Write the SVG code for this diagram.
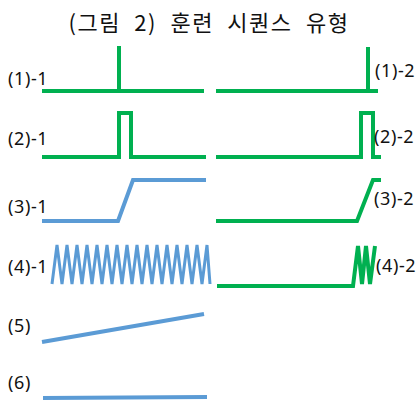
<svg xmlns="http://www.w3.org/2000/svg" width="420" height="400" viewBox="0 0 420 400">
<style>
.lbl{font-family:"Noto Sans","Liberation Sans",sans-serif;font-size:18px;fill:#111;letter-spacing:0.6px}
.title{font-family:"Noto Sans CJK KR","Noto Sans",sans-serif;font-size:22px;fill:#111;letter-spacing:1.5px;word-spacing:7px}
.g{fill:none;stroke:#00B050;stroke-width:4;stroke-linejoin:miter}
.b{fill:none;stroke:#5B9BD5;stroke-width:4;stroke-linejoin:miter}
</style>
<rect width="420" height="400" fill="#fff"/>
<text class="title" x="209" y="31" text-anchor="middle">(그림 2) 훈련 시퀀스 유형</text>
<g id="connectors">
<g id="row1-1"><path class="g" d="M42 91 H204 M119 91 V46"/></g>
<g id="row1-2"><path class="g" d="M216 91 H378 M368 91 V47"/></g>
<g id="row2-1"><path class="g" d="M42 157 H119 V113 H131 V157 H206"/></g>
<g id="row2-2"><path class="g" d="M216 157 H361 V113 H373 V157 H381"/></g>
<g id="row3-1"><path class="b" d="M42 221 H118 L133 180 H206"/></g>
<g id="row3-2"><path class="g" d="M216 221 H357 L373 180 H381"/></g>
<g id="row4-1"><path class="b" style="stroke-width:3" d="M52 284 L57 245 L62 284 L67 245 L72 284 L77 245 L82 284 L87 245 L92 284 L97 245 L102 284 L107 245 L112 284 L117 245 L122 284 L127 245 L132 284 L137 245 L142 284 L147 245 L152 284 L157 245 L162 284 L167 245 L172 284 L177 245 L182 284 L187 245 L192 284 L197 245 L202 284 L207 245 L210 284"/></g>
<g id="row4-2"><path class="g" d="M217 286 H353 L358 246 L362 284 L366 246 L370 284 L375 246"/></g>
<g id="row5"><path class="b" d="M42 342 L204 314"/></g>
<g id="row6"><path class="b" d="M43 398 L207 397"/></g>
</g>
<g id="labels">
<text class="lbl" x="8" y="85">(1)-1</text>
<text class="lbl" x="375" y="77">(1)-2</text>
<text class="lbl" x="8" y="145">(2)-1</text>
<text class="lbl" x="374" y="143">(2)-2</text>
<text class="lbl" x="8" y="213">(3)-1</text>
<text class="lbl" x="374" y="205">(3)-2</text>
<text class="lbl" x="8" y="273">(4)-1</text>
<text class="lbl" x="376" y="272">(4)-2</text>
<text class="lbl" x="8" y="332">(5)</text>
<text class="lbl" x="8" y="389">(6)</text>
</g>
</svg>
